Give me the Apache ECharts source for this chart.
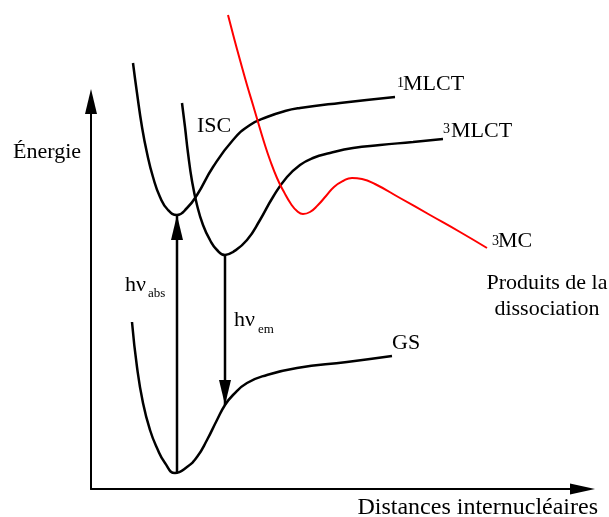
<!DOCTYPE html>
<html>
<head>
<meta charset="utf-8">
<script src="https://cdn.jsdelivr.net/npm/echarts@6/dist/echarts.min.js"></script>
<style>
html,body{margin:0;padding:0;background:#fff;}
#chart{width:609px;height:517px;}
</style>
</head>
<body>
<div id="chart"></div>
<script>
// Potential energy curves: [internuclear distance, energy] (arbitrary units)
const curveGS = [[41,167],[46,122],[52,86],[59,59],[66,41],[74,26],[84,16],[96,22],[106,32],[116,49],[126,69],[134,84],[142,94],[156,106],[176,114],[206,121],[256,127],[301,133]];
const curve1MLCT = [[42,426],[46,396],[51,362],[56,336],[62,312],[69,292],[77,279],[86,274],[96,281],[106,294],[122,322],[142,349],[159,364],[176,372],[194,378],[209,381],[249,386],[304,392]];
const curve3MLCT = [[91,386],[94,362],[97,336],[101,308],[106,284],[112,264],[119,249],[126,239],[134,234],[142,237],[156,249],[169,269],[182,292],[196,312],[209,324],[222,331],[239,336],[262,341],[289,344],[322,347],[352,350]];
const curve3MC = [[137,474],[143,451],[149,429],[156,404],[162,384],[167,367],[173,347],[179,329],[186,311],[193,297],[200,285],[206,278],[212,275],[219,277],[227,284],[235,293],[243,302],[252,308],[261,311],[271,310],[284,305],[309,291],[339,274],[369,257],[396,241]];
// Transitions: [x, E_from], [x, E_to]
const absorption = [[86,17],[86,274]];
const emission = [[134,234],[134,84]];

const FONT = '"Liberation Serif", "Times New Roman", serif';
const chart = echarts.init(document.getElementById('chart'));

function txt(text, x, y, size, align, valign, color) {
  return {
    type: 'text',
    style: {
      text: text, x: x, y: y,
      font: size + 'px ' + FONT,
      fill: color || '#000',
      align: align || 'left', textAlign: align || 'left',
      verticalAlign: valign || 'middle', textVerticalAlign: valign || 'middle'
    },
    z: 100
  };
}

function curve(data, color, width) {
  return {
    type: 'line', data: data, smooth: 0.5, symbol: 'none', clip: false,
    lineStyle: { color: color, width: width }, silent: true, animation: false
  };
}

function arrow(data, up) {
  return {
    type: 'line', clip: false, silent: true, animation: false,
    symbol: 'triangle', showSymbol: true,
    lineStyle: { color: '#000', width: 2.5 },
    itemStyle: { color: '#000', borderWidth: 0 },
    data: [
      { value: data[0], symbol: 'none' },
      { value: data[1], symbol: 'triangle', symbolSize: [12, 25],
        symbolRotate: up ? 0 : 180, symbolOffset: [0, up ? '50%' : '-50%'] }
    ]
  };
}

chart.setOption({
  animation: false,
  backgroundColor: '#fff',
  grid: { left: 91, top: 101.5, right: 26.5, bottom: 28, containLabel: false },
  xAxis: {
    type: 'value', min: 0, max: 491.5,
    axisLine: { show: true, symbol: ['none', 'triangle'], symbolSize: [11, 25], lineStyle: { color: '#000', width: 2 } },
    axisTick: { show: false }, axisLabel: { show: false }, splitLine: { show: false }
  },
  yAxis: {
    type: 'value', min: 0, max: 387.5,
    axisLine: { show: true, symbol: ['none', 'triangle'], symbolSize: [12, 25], lineStyle: { color: '#000', width: 2 } },
    axisTick: { show: false }, axisLabel: { show: false }, splitLine: { show: false }
  },
  series: [
    curve(curveGS, '#000', 2.5),
    curve(curve1MLCT, '#000', 2.5),
    curve(curve3MLCT, '#000', 2.5),
    curve(curve3MC, '#ff0000', 2),
    arrow(absorption, true),
    arrow(emission, false)
  ],
  graphic: [
    txt('Énergie', 13, 152, 22),
    txt('Distances internucléaires', 598, 508, 24, 'right'),
    txt('ISC', 197, 126, 22),
    txt('1', 397, 76, 14, 'left', 'top'),
    txt('MLCT', 403, 84, 22),
    txt('3', 443, 122, 14, 'left', 'top'),
    txt('MLCT', 451, 131, 22),
    txt('3', 492, 234, 14, 'left', 'top'),
    txt('MC', 498, 241, 22),
    txt('Produits de la', 547, 283, 22, 'center'),
    txt('dissociation', 547, 309, 22, 'center'),
    txt('GS', 392, 343, 22),
    txt('hν', 125, 285, 22),
    txt('abs', 148, 293.5, 13),
    txt('hν', 234, 320, 22),
    txt('em', 258, 329.5, 13)
  ]
});
</script>
</body>
</html>
